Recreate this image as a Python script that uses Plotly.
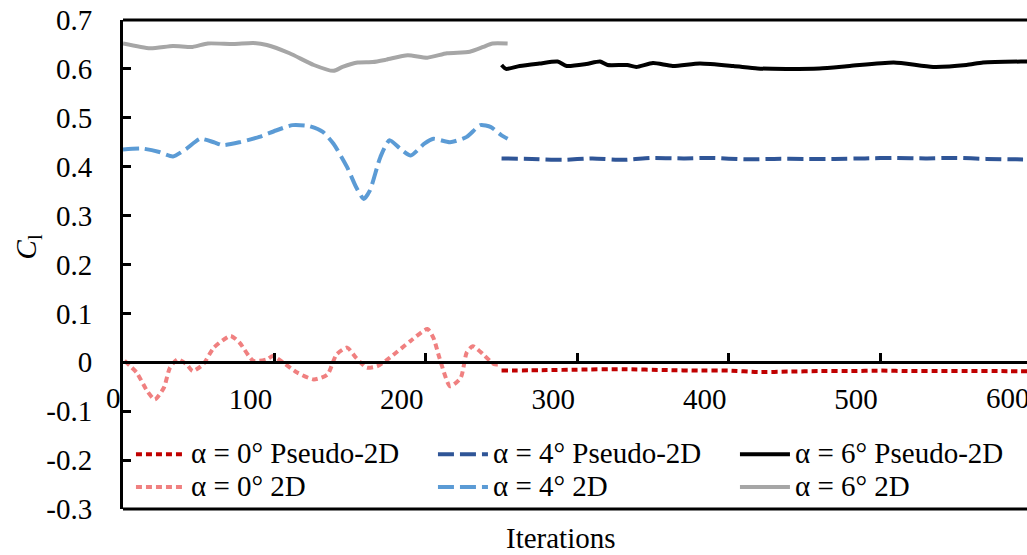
import plotly.graph_objects as go

# ---------------- data ----------------
it_0_2d = [1, 9, 16, 21, 27, 31, 36, 42, 46, 53, 60, 71, 77, 86, 95, 99, 106, 115, 126, 135, 141, 148,
           154, 161, 168, 176, 190, 201, 205, 209, 216, 223, 227, 231, 238, 245, 249]
cl_0_2d = [0.003, -0.021, -0.059, -0.076, -0.052, -0.011, 0.006, -0.004, -0.018, -0.004, 0.030, 0.054,
           0.040, 0.003, 0.006, 0.013, -0.001, -0.021, -0.035, -0.025, 0.016, 0.030, 0.009, -0.011,
           -0.008, 0.009, 0.044, 0.068, 0.050, 0.009, -0.049, -0.032, 0.020, 0.033, 0.016, -0.004, -0.004]

it_4_2d = [0, 13, 24, 33, 42, 51, 60, 66, 77, 90, 101, 112, 123, 132, 139, 148, 154, 159, 163, 170,
           176, 183, 190, 199, 205, 216, 227, 236, 243, 250, 254]
cl_4_2d = [0.435, 0.437, 0.430, 0.421, 0.437, 0.457, 0.450, 0.444, 0.450, 0.461, 0.474, 0.485, 0.483,
           0.471, 0.447, 0.399, 0.358, 0.334, 0.351, 0.420, 0.454, 0.437, 0.423, 0.447, 0.457, 0.450,
           0.461, 0.485, 0.481, 0.464, 0.457]

it_6_2d = [0, 18, 33, 46, 56, 73, 86, 95, 110, 126, 139, 145, 155, 165, 174, 188, 201, 214, 229, 238,
           244, 254]
cl_6_2d = [0.652, 0.642, 0.647, 0.645, 0.652, 0.651, 0.653, 0.649, 0.632, 0.608, 0.596, 0.604, 0.613,
           0.614, 0.619, 0.628, 0.623, 0.632, 0.635, 0.645, 0.652, 0.652]

it_0_p2d = [250, 280, 300, 330, 360, 380, 400, 420, 440, 460, 480, 500, 520, 540, 560, 580, 610]
cl_0_p2d = [-0.017, -0.016, -0.015, -0.014, -0.016, -0.017, -0.017, -0.020, -0.019, -0.018, -0.018,
            -0.017, -0.018, -0.018, -0.018, -0.018, -0.019]

it_4_p2d = [250, 270, 290, 310, 330, 350, 370, 390, 410, 430, 450, 470, 490, 510, 530, 550, 570, 590, 610]
cl_4_p2d = [0.417, 0.416, 0.414, 0.417, 0.414, 0.418, 0.417, 0.418, 0.415, 0.416, 0.416, 0.416, 0.417,
            0.418, 0.417, 0.418, 0.416, 0.415, 0.414]

it_6_p2d = [250, 253, 262, 275, 287, 293, 306, 315, 320, 333, 339, 350, 363, 381, 403, 419, 438, 460,
            480, 509, 535, 557, 568, 593, 610]
cl_6_p2d = [0.608, 0.600, 0.606, 0.611, 0.615, 0.606, 0.610, 0.615, 0.608, 0.608, 0.604, 0.612, 0.606,
            0.611, 0.606, 0.601, 0.600, 0.601, 0.606, 0.613, 0.604, 0.608, 0.613, 0.615, 0.615]

x_tick_vals = [0, 100, 200, 300, 400, 500, 600]
x_tick_text = ["0", "100", "200", "300", "400", "500", "600"]
y_tick_vals = [-0.3, -0.2, -0.1, 0, 0.1, 0.2, 0.3, 0.4, 0.5, 0.6, 0.7]
y_tick_text = ["-0.3", "-0.2", "-0.1", "0", "0.1", "0.2", "0.3", "0.4", "0.5", "0.6", "0.7"]

x_range = [0, 597]
y_range = [-0.3, 0.7]

FONT = "Liberation Serif"
FS = 29

series = [
    ("α = 0° Pseudo-2D", it_0_p2d, cl_0_p2d, "#C00000", "6px,4px", 237),
    ("α = 4° Pseudo-2D", it_4_p2d, cl_4_p2d, "#2F5597", "16px,6px", 237),
    ("α = 6° Pseudo-2D", it_6_p2d, cl_6_p2d, "#000000", "solid", 215),
    ("α = 0° 2D", it_0_2d, cl_0_2d, "#F08080", "6px,4px", 237),
    ("α = 4° 2D", it_4_2d, cl_4_2d, "#5B9BD5", "16px,6px", 237),
    ("α = 6° 2D", it_6_2d, cl_6_2d, "#A6A6A6", "solid", 215),
]

fig = go.Figure()
for name, xs, ys, col, dash, lw in series:
    fig.add_trace(go.Scatter(x=xs, y=ys, mode="lines", legendwidth=lw,
                             name='<span style="font-size:%dpx">%s</span>' % (FS, name),
                             line=dict(color=col, width=4, dash=dash, shape="spline", smoothing=0.6)))

zero_pos = (0 - y_range[0]) / (y_range[1] - y_range[0])

fig.update_layout(
    width=1027, height=555,
    margin=dict(l=123, r=0, t=20, b=46, autoexpand=False),
    paper_bgcolor="white", plot_bgcolor="white",
    font=dict(family=FONT, size=FS, color="black"),
    showlegend=True,
    legend=dict(orientation="h", x=0.0088, y=0.156, xanchor="left", yanchor="top",
                bgcolor="rgba(0,0,0,0)", entrywidth=237, entrywidthmode="pixels",
                traceorder="normal", font=dict(family=FONT, size=23, color="black"),
                itemwidth=50),
    xaxis=dict(range=x_range, anchor="free", position=zero_pos, showline=True,
               linecolor="black", linewidth=3, ticks="inside", ticklen=8, tickwidth=2.5,
               tickcolor="black", tickvals=x_tick_vals[1:6], ticktext=x_tick_text[1:6],
               ticklabelshift=-24, ticklabelstandoff=10, showgrid=False, zeroline=False,
               automargin=False, tickfont=dict(family=FONT, size=FS, color="black")),
    yaxis=dict(range=y_range, showline=True, linecolor="black", linewidth=3, ticks="inside",
               ticklen=8, tickwidth=2.5, tickcolor="black", tickvals=y_tick_vals,
               ticktext=y_tick_text, showgrid=False, zeroline=False, ticklabelstandoff=22,
               automargin=False, tickfont=dict(family=FONT, size=FS, color="black")),
    shapes=[
        dict(type="line", xref="paper", yref="paper", x0=0, x1=1, y0=1, y1=1,
             line=dict(color="black", width=3)),
        dict(type="line", xref="paper", yref="paper", x0=0, x1=1, y0=0, y1=0,
             line=dict(color="black", width=3)),
    ],
)

plot_w = 1027 - 123
span = x_range[1] - x_range[0]
# end labels of the x axis ("0" and "600"), placed with the axis scale
for v, t, sh in [(x_tick_vals[0], x_tick_text[0], -10), (x_tick_vals[-1], x_tick_text[-1], -24)]:
    fig.add_annotation(x=(v - x_range[0]) / span, xref="paper", y=zero_pos, yref="paper",
                       text=t, showarrow=False, xanchor="center", yanchor="top", xshift=sh,
                       yshift=-18, font=dict(family=FONT, size=FS, color="black"))

fig.add_annotation(x=(561 - 123) / plot_w, xref="paper", y=-0.06, yref="paper",
                   text="Iterations", showarrow=False, xanchor="center", yanchor="middle",
                   font=dict(family=FONT, size=FS, color="black"))
fig.add_annotation(x=(28 - 123) / plot_w, xref="paper", y=0.535, yref="paper",
                   text="<i>C</i><sub>l</sub>", textangle=-90, showarrow=False,
                   xanchor="center", yanchor="middle", font=dict(family=FONT, size=FS, color="black"))

fig.write_html("out.html")
